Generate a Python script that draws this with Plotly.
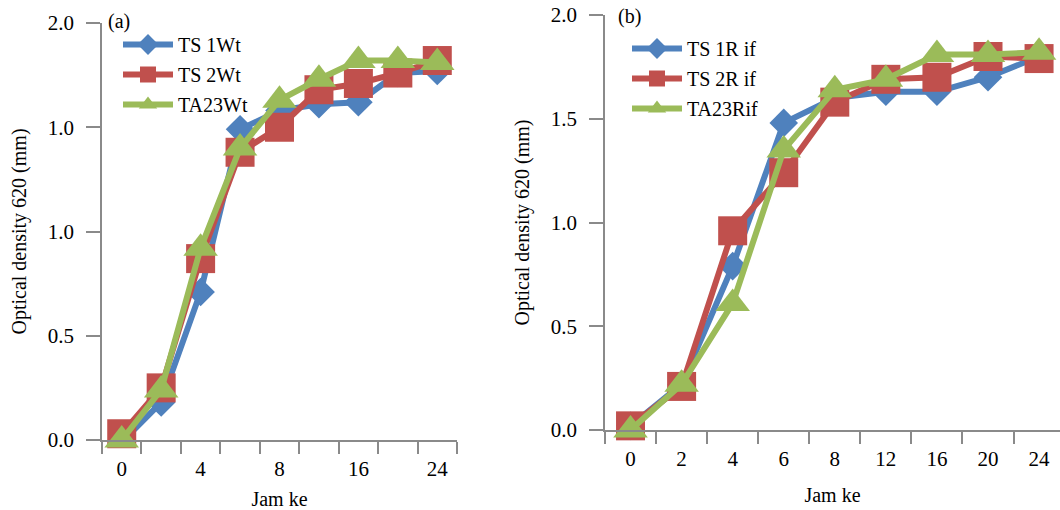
import plotly.graph_objects as go

# ---- data ----
hours = ["0", "2", "4", "6", "8", "12", "16", "20", "24"]
left_tick_idx = [0, 2, 4, 6, 8]
left_tick_text = ["0", "4", "8", "16", "24"]

ts1wt = [-0.01, 0.18, 0.71, 1.49, 1.58, 1.61, 1.62, 1.76, 1.77]
ts2wt = [0.03, 0.25, 0.87, 1.38, 1.50, 1.68, 1.71, 1.76, 1.82]
ta23wt = [0.0, 0.24, 0.92, 1.40, 1.63, 1.73, 1.82, 1.82, 1.81]

ts1rif = [0.02, 0.22, 0.79, 1.48, 1.60, 1.63, 1.63, 1.70, 1.80]
ts2rif = [0.02, 0.21, 0.96, 1.24, 1.58, 1.69, 1.70, 1.80, 1.79]
ta23rif = [0.0, 0.22, 0.61, 1.35, 1.64, 1.69, 1.81, 1.81, 1.82]

y_tickvals = [0, 0.5, 1.0, 1.5, 2.0]
left_y_text = ["0.0", "0.5", "1.0", "1.0", "2.0"]
right_y_text = ["0.0", "0.5", "1.0", "1.5", "2.0"]

left_names = ["TS 1Wt", "TS 2Wt", "TA23Wt"]
right_names = ["TS 1R if", "TS 2R if", "TA23Rif"]

# ---- styles ----
colors = ["#4F81BD", "#C0504D", "#9BBB59"]
symbols = ["diamond", "square", "triangle-up"]
sizes = [22, 29, 30]
FONT = "Liberation Serif, Times New Roman, serif"
AXC = "#8a8a8a"

idx = list(range(len(hours)))

fig = go.Figure()
left_series = [ts1wt, ts2wt, ta23wt]
right_series = [ts1rif, ts2rif, ta23rif]
for i, (vals, name) in enumerate(zip(left_series, left_names)):
    fig.add_trace(go.Scatter(
        x=idx, y=vals, name=name, mode="lines+markers",
        line=dict(color=colors[i], width=6),
        marker=dict(symbol=symbols[i], size=sizes[i], color=colors[i]),
        xaxis="x", yaxis="y", legend="legend", legendgroup="l%d" % i,
        cliponaxis=False))
for i, (vals, name) in enumerate(zip(right_series, right_names)):
    fig.add_trace(go.Scatter(
        x=idx, y=vals, name=name, mode="lines+markers",
        line=dict(color=colors[i], width=6),
        marker=dict(symbol=symbols[i], size=sizes[i], color=colors[i]),
        xaxis="x2", yaxis="y2", legend="legend2", legendgroup="r%d" % i,
        cliponaxis=False))

W, H = 1060, 510
def px_x(p):
    return p / W
def px_y(p):
    return 1 - p / H

common_x = dict(
    automargin=False,
    showgrid=False, zeroline=False, showline=True, linecolor=AXC, linewidth=1.5,
    ticks="outside", ticklen=4, tickcolor="rgba(0,0,0,0)",
    tickfont=dict(family=FONT, size=21, color="black"),
    ticklabelstandoff=5,
    title=dict(text="Jam ke", font=dict(family=FONT, size=20, color="black"), standoff=18),
    minor=dict(tickmode="array", tickvals=[k - 0.5 for k in range(10)],
               ticks="outside", ticklen=12, tickcolor=AXC, tickwidth=1.5),
)
common_y = dict(
    automargin=False,
    showgrid=False, zeroline=False, showline=True, linecolor=AXC, linewidth=1.5,
    ticks="outside", ticklen=14, tickcolor=AXC, tickwidth=1.5,
    tickfont=dict(family=FONT, size=21, color="black"),
    ticklabelstandoff=8, ticklabeloverflow="allow",
    range=[0, 2], tickmode="array", tickvals=y_tickvals,
    title=dict(text="Optical density 620 (mm)", font=dict(family=FONT, size=20, color="black"), standoff=16),
)

fig.update_layout(
    template="none",
    width=W, height=H, margin=dict(l=0, r=0, t=0, b=0, autoexpand=False),
    paper_bgcolor="white", plot_bgcolor="white",
    font=dict(family=FONT, size=20, color="black"),
    xaxis=dict(common_x, domain=[px_x(102), px_x(457)], range=[-0.5, 8.5],
               tickmode="array", tickvals=left_tick_idx, ticktext=left_tick_text,
               anchor="y"),
    yaxis=dict(common_y, domain=[px_y(440), px_y(23)], ticktext=left_y_text, anchor="x"),
    xaxis2=dict(common_x, domain=[px_x(605), 1.0], range=[-0.5, 8.41],
                tickmode="array", tickvals=idx, ticktext=hours, anchor="y2"),
    yaxis2=dict(common_y, domain=[px_y(430), px_y(15)], ticktext=right_y_text, anchor="x2"),
    legend=dict(x=px_x(118), y=px_y(25), xanchor="left", yanchor="top",
                bgcolor="rgba(0,0,0,0)", font=dict(family=FONT, size=20, color="black"),
                tracegroupgap=1, itemwidth=50),
    legend2=dict(x=px_x(627), y=px_y(29), xanchor="left", yanchor="top",
                 bgcolor="rgba(0,0,0,0)", font=dict(family=FONT, size=20, color="black"),
                 tracegroupgap=1, itemwidth=50),
    annotations=[
        dict(text="(a)", x=px_x(106), y=px_y(22), xref="paper", yref="paper",
             xanchor="left", yanchor="middle", showarrow=False,
             font=dict(family=FONT, size=20, color="black")),
        dict(text="(b)", x=px_x(616), y=px_y(16), xref="paper", yref="paper",
             xanchor="left", yanchor="middle", showarrow=False,
             font=dict(family=FONT, size=20, color="black")),
    ],
)

# remove the default page margin so the 1060x510 figure fills the window exactly
fig.write_html("out.html",
               config={"displayModeBar": False},
               post_script="document.body.style.margin='0';document.body.style.overflow='hidden';")
